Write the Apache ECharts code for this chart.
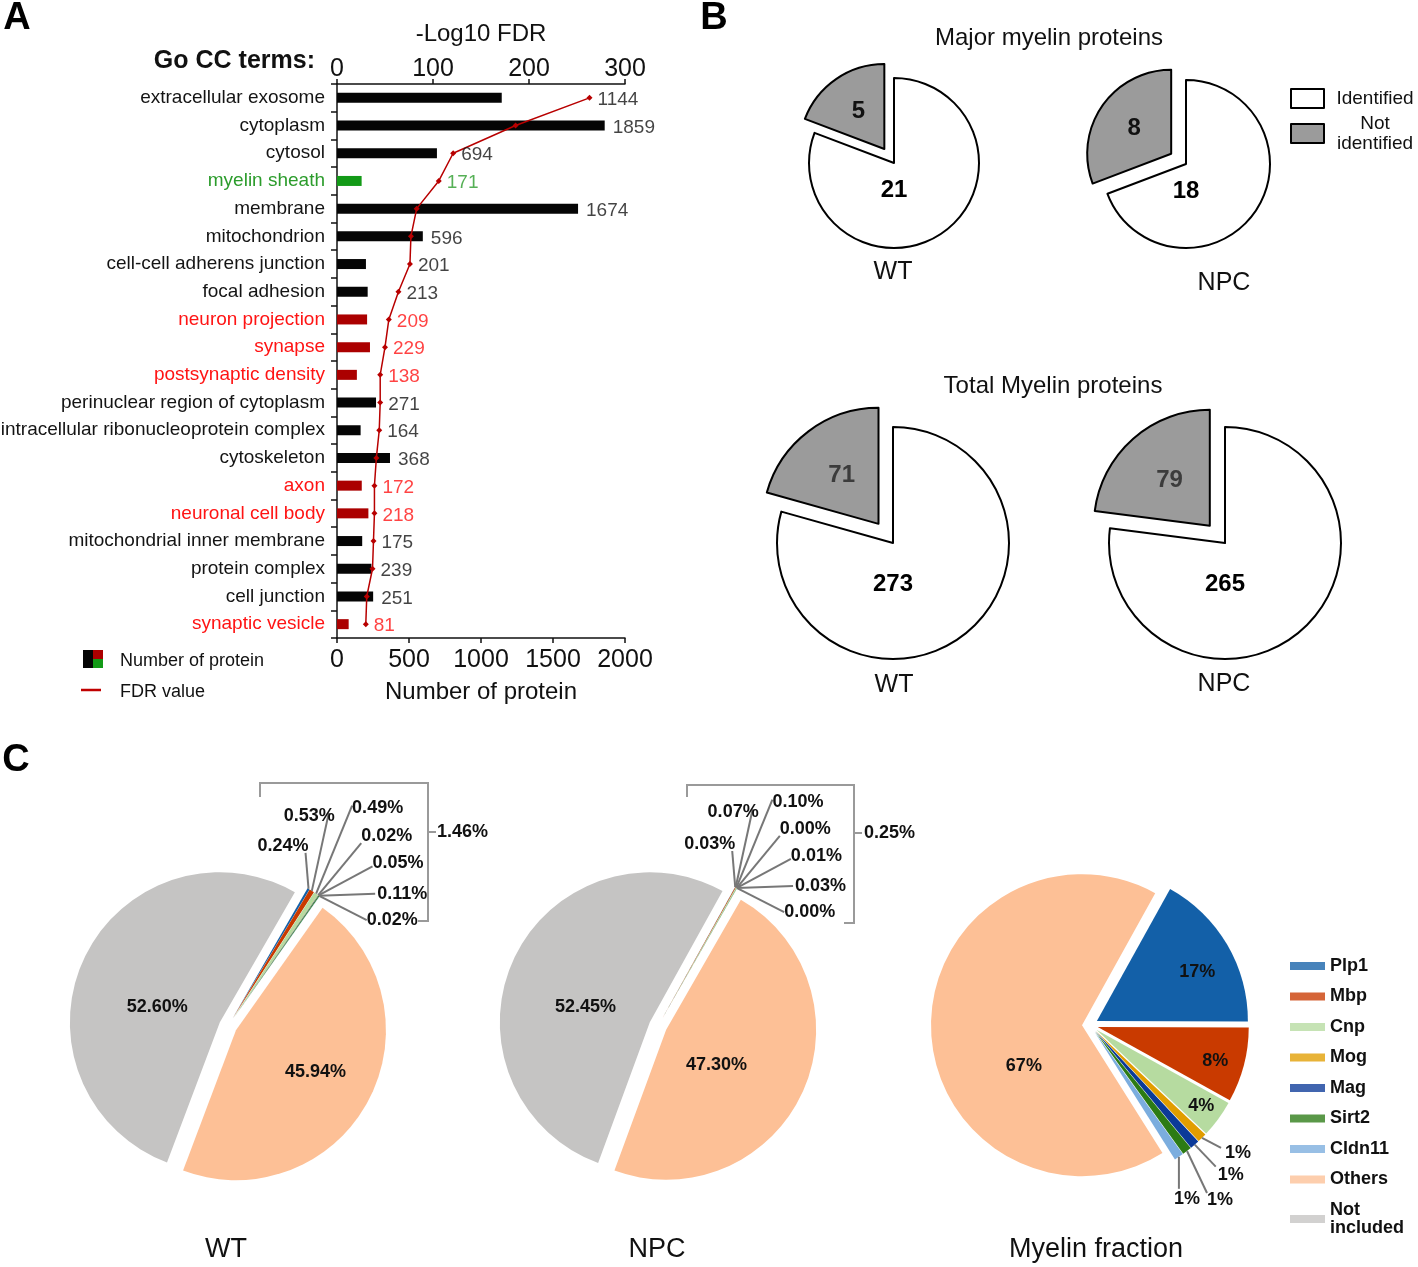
<!DOCTYPE html>
<html>
<head>
<meta charset="utf-8">
<title>GO CC terms and myelin proteins</title>
<script src="https://cdn.jsdelivr.net/npm/echarts@6.0.0/dist/echarts.min.js"></script>
<style>
html, body { margin: 0; padding: 0; background: #fff; }
#main { width: 1418px; height: 1267px; }
</style>
</head>
<body>
<div id="main"></div>
<script>
// ---- A: GO CC terms ----
const ccTerms = ['extracellular exosome', 'cytoplasm', 'cytosol', 'myelin sheath', 'membrane', 'mitochondrion',
  'cell-cell adherens junction', 'focal adhesion', 'neuron projection', 'synapse', 'postsynaptic density',
  'perinuclear region of cytoplasm', 'intracellular ribonucleoprotein complex', 'cytoskeleton', 'axon',
  'neuronal cell body', 'mitochondrial inner membrane', 'protein complex', 'cell junction', 'synaptic vesicle'];
const proteinCounts = [1144, 1859, 694, 171, 1674, 596, 201, 213, 209, 229, 138, 271, 164, 368, 172, 218, 175, 239, 251, 81];
const fdrLog10 = [263, 186, 121, 106, 83, 77, 76, 64, 54, 50, 45, 45, 44, 41, 39, 39, 38, 37, 31, 30];
const termGroup = ['other', 'other', 'other', 'myelin', 'other', 'other', 'other', 'other', 'neuron', 'neuron',
  'neuron', 'other', 'other', 'other', 'neuron', 'neuron', 'other', 'other', 'other', 'neuron'];
const countMax = 2000, countStep = 500;
const fdrMax = 300, fdrStep = 100;

// ---- B: identified / not identified ----
const idNames = ['Identified', 'Not identified'];
const majorWT = [21, 5];
const majorNPC = [18, 8];
const totalWT = [273, 71];
const totalNPC = [265, 79];

// ---- C: share of myelin proteins (%) ----
const proteinNames = ['Plp1', 'Mbp', 'Cnp', 'Mog', 'Mag', 'Sirt2', 'Cldn11', 'Others', 'Not included'];
const pctWT = [0.24, 0.53, 0.49, 0.02, 0.05, 0.11, 0.02, 45.94, 52.60];
const pctNPC = [0.03, 0.07, 0.10, 0.00, 0.01, 0.03, 0.00, 47.30, 52.45];
const fractionNames = ['Plp1', 'Mbp', 'Cnp', 'Mog', 'Mag', 'Sirt2', 'Cldn11', 'Others'];
const pctMyelin = [17, 8, 4, 1, 1, 1, 1, 67];

const FONT = '"Liberation Sans", Arial, Helvetica, sans-serif';
const groupBar = { other: '#050505', neuron: '#ab0000', myelin: '#139a17' };
const groupText = { other: '#141414', neuron: '#ff1414', myelin: '#2c9c2c' };
const proteinColors = ['#1360a8', '#c93a00', '#b6dba0', '#e19d00', '#0b3a98', '#2c7b14', '#7badde', '#fdc096', '#c5c4c3'];

// pie geometry (pixels)
const pieGeom = {
  majorWT: { center: [894, 163], radius: 85, offset: 17 },
  majorNPC: { center: [1186, 164], radius: 84, offset: 18 },
  totalWT: { center: [893, 543], radius: 116, offset: 24 },
  totalNPC: { center: [1225, 543], radius: 116, offset: 23 },
  pctWT: { center: [228, 1026], radius: 150, offset: 9, start: 60 },
  pctNPC: { center: [658, 1026], radius: 150, offset: 9, start: 61 },
  pctMyelin: { center: [1090, 1025], radius: 151, offset: 8, start: 61 }
};

// fan of leader lines for the tiny slices
const fanSmall = [
  { v: [-3, -36], align: 'right', dx: 3, dy: -7 },
  { v: [17, -78], align: 'right', dx: 6, dy: 3 },
  { v: [36, -88], align: 'left', dx: 0, dy: 2 },
  { v: [43, -52], align: 'left', dx: 0, dy: -7 },
  { v: [54, -29], align: 'left', dx: 0, dy: -3 },
  { v: [56, -2], align: 'left', dx: 2, dy: 0 },
  { v: [47, 24], align: 'left', dx: 0, dy: 0 }
];
const fanMyelin = [
  { v: [19, 10], align: 'left', dx: 4, dy: 5 },
  { v: [21, 22], align: 'left', dx: 2, dy: 8 },
  { v: [20, 42], align: 'left', dx: 0, dy: 7 },
  { v: [0, 32], align: 'left', dx: -5, dy: 10 }
];

function placeLabels (geom, specs) {
  return function (p) {
    const s = specs[p.dataIndex];
    if (!s) return {};
    const c = geom.center, r = geom.radius;
    const ref = (p.labelLinePoints && p.labelLinePoints[0]) ||
      [p.labelRect.x + p.labelRect.width / 2, p.labelRect.y + p.labelRect.height / 2];
    let ux = ref[0] - c[0], uy = ref[1] - c[1];
    const n = Math.hypot(ux, uy) || 1;
    ux /= n; uy /= n;
    const d = s.sel === false ? 0 : geom.offset;
    if (s.v) {
      const ax = c[0] + (d + r) * ux, ay = c[1] + (d + r) * uy;
      const ex = ax + s.v[0], ey = ay + s.v[1];
      return {
        x: ex + s.dx, y: ey + s.dy, align: s.align, verticalAlign: 'middle',
        labelLinePoints: [[ax, ay], [ex, ey], [ex, ey]]
      };
    }
    let lx = ux, ly = uy;
    if (s.ang != null) {
      const a = s.ang * Math.PI / 180;
      lx = Math.sin(a); ly = -Math.cos(a);
    }
    return {
      x: c[0] + d * ux + s.f * r * lx,
      y: c[1] + d * uy + s.f * r * ly,
      align: 'center', verticalAlign: 'middle'
    };
  };
}

function idPie (geom, values, specs, grayLabel) {
  return {
    type: 'pie', center: geom.center, radius: geom.radius, startAngle: 90, clockwise: true,
    selectedMode: 'multiple', selectedOffset: geom.offset, avoidLabelOverlap: false, silent: true,
    itemStyle: { borderColor: '#000', borderWidth: 2 },
    label: { position: 'inside', fontSize: 24, fontWeight: 'bold', fontFamily: FONT, formatter: '{c}' },
    labelLine: { show: false },
    labelLayout: placeLabels(geom, specs),
    data: [
      { name: idNames[0], value: values[0], itemStyle: { color: '#ffffff' }, label: { color: '#000' } },
      { name: idNames[1], value: values[1], selected: true, itemStyle: { color: '#9b9b9b' }, label: { color: grayLabel } }
    ]
  };
}

// exploded colour pie + a transparent twin that carries the labels
function pctPie (geom, names, values, specs, digits) {
  const base = {
    type: 'pie', center: geom.center, radius: geom.radius, startAngle: geom.start, clockwise: true,
    selectedMode: 'multiple', selectedOffset: geom.offset, silent: true,
    itemStyle: { borderWidth: 0 },
    label: { show: false }, labelLine: { show: false },
    data: names.map((nm, i) => ({ name: nm, value: values[i], selected: true, itemStyle: { color: proteinColors[i] } }))
  };
  const labels = {
    type: 'pie', center: geom.center, radius: geom.radius, startAngle: geom.start, clockwise: true,
    silent: true, avoidLabelOverlap: false, z: 4,
    itemStyle: { color: 'rgba(0,0,0,0)', borderWidth: 0 },
    label: {
      fontSize: 18, fontWeight: 'bold', color: '#111', fontFamily: FONT,
      formatter: p => p.value.toFixed(digits) + '%'
    },
    labelLine: { show: false, length: 10, length2: 0, lineStyle: { color: '#777', width: 2 } },
    labelLayout: placeLabels(geom, specs),
    data: names.map((nm, i) => ({
      name: nm, value: values[i],
      label: { position: specs[i].v ? 'outside' : 'inside' },
      labelLine: { show: !!specs[i].v }
    }))
  };
  return [base, labels];
}

const specsWT = fanSmall.concat([{ f: 0.6 }, { f: 0.43, ang: 284 }]);
const specsNPC = fanSmall.concat([{ f: 0.41, ang: 125 }, { f: 0.44, ang: 283 }]);
const specsMyelin = [{ f: 0.74, ang: 64 }, { f: 0.81, ang: 106 }, { f: 0.86 }].concat(fanMyelin, [{ f: 0.47, ang: 235 }]);
const specsMajor = [{ f: 0.32, ang: 180, sel: false }, { f: 0.5 }];
const specsTotal = [{ f: 0.36, ang: 180, sel: false }, { f: 0.5 }];

function txt (x, y, text, size, extra) {
  return {
    type: 'text', x: x, y: y, silent: true,
    style: Object.assign({
      text: text, fontSize: size, fontFamily: FONT, fill: '#111',
      align: 'center', verticalAlign: 'middle', textAlign: 'center', textVerticalAlign: 'middle'
    }, extra || {})
  };
}
function poly (points) {
  return { type: 'polyline', silent: true, shape: { points: points }, style: { stroke: '#9a9a9a', lineWidth: 2, fill: null } };
}

const chart = echarts.init(document.getElementById('main'), null, { renderer: 'canvas' });

const option = {
  animation: false,
  backgroundColor: '#fff',
  textStyle: { fontFamily: FONT },
  grid: { left: 337, top: 84, width: 288, height: 554, containLabel: false, outerBoundsMode: 'none' },
  xAxis: [
    {
      type: 'value', position: 'bottom', min: 0, max: countMax, interval: countStep,
      name: 'Number of protein', nameLocation: 'middle', nameGap: 42,
      nameTextStyle: { fontSize: 24, color: '#111' },
      axisLine: { show: true, lineStyle: { color: '#111', width: 1.5 } },
      axisTick: { show: true, length: 5, lineStyle: { color: '#111', width: 1.5 } },
      axisLabel: { fontSize: 25, color: '#111', margin: 10, formatter: v => String(v) },
      splitLine: { show: false }
    },
    {
      type: 'value', position: 'top', min: 0, max: fdrMax, interval: fdrStep,
      name: '-Log10 FDR', nameLocation: 'middle', nameGap: 38,
      nameTextStyle: { fontSize: 24, color: '#111' },
      axisLine: { show: true, lineStyle: { color: '#111', width: 1.5 } },
      axisTick: { show: true, length: 5, lineStyle: { color: '#111', width: 1.5 } },
      axisLabel: { fontSize: 25, color: '#111', margin: 2, formatter: v => String(v) },
      splitLine: { show: false }
    }
  ],
  yAxis: {
    type: 'category', inverse: true,
    data: ccTerms.map((t, i) => ({ value: t, textStyle: { color: groupText[termGroup[i]] } })),
    axisLine: { show: true, lineStyle: { color: '#111', width: 1.5 } },
    axisTick: { show: true, length: 6, lineStyle: { color: '#111', width: 1.5 } },
    axisLabel: { fontSize: 19, margin: 12, color: '#141414' },
    splitLine: { show: false }
  },
  legend: [
    {
      data: idNames, orient: 'vertical', left: 1290, top: 88, padding: 0, itemWidth: 33, itemHeight: 19, itemGap: 5,
      icon: 'rect', selectedMode: false,
      itemStyle: { borderColor: '#000', borderWidth: 2 },
      formatter: nm => nm.split(' ').map(w => '{c|' + w + '}').join('\n'),
      textStyle: { rich: { c: { width: 92, align: 'center', fontSize: 19, lineHeight: 20, color: '#111' } } }
    },
    {
      data: proteinNames, orient: 'vertical', left: 1290, top: 957, padding: 0, itemWidth: 35, itemHeight: 8, itemGap: 12.5,
      icon: 'rect', selectedMode: false,
      itemStyle: { opacity: 0.78 },
      formatter: nm => nm.replace(' ', '\n'),
      textStyle: { fontSize: 18, fontWeight: 'bold', color: '#111', lineHeight: 18 }
    }
  ],
  series: [
    {
      type: 'bar', xAxisIndex: 0, yAxisIndex: 0, barWidth: 10, silent: true,
      data: proteinCounts.map((v, i) => ({ value: [v, i], itemStyle: { color: groupBar[termGroup[i]] } }))
    },
    {
      type: 'line', xAxisIndex: 1, yAxisIndex: 0, silent: true, z: 5,
      symbol: 'diamond', symbolSize: 6,
      lineStyle: { color: '#b80000', width: 1.5 }, itemStyle: { color: '#b80000' },
      data: fdrLog10.map((v, i) => [v, i])
    },
    {
      type: 'scatter', xAxisIndex: 0, yAxisIndex: 0, silent: true, symbolSize: 0, z: 6,
      label: {
        show: true, position: 'right', distance: 8, fontSize: 19, offset: [0, 2],
        formatter: p => String(proteinCounts[p.dataIndex])
      },
      data: proteinCounts.map((v, i) => ({
        value: [Math.max(v, fdrLog10[i] * countMax / fdrMax), i],
        label: { color: groupText[termGroup[i]] }
      }))
    },
    idPie(pieGeom.majorWT, majorWT, specsMajor, '#111'),
    idPie(pieGeom.majorNPC, majorNPC, specsMajor, '#111'),
    idPie(pieGeom.totalWT, totalWT, specsTotal, '#3c3c3c'),
    idPie(pieGeom.totalNPC, totalNPC, specsTotal, '#3c3c3c')
  ].concat(
    pctPie(pieGeom.pctWT, proteinNames, pctWT, specsWT, 2),
    pctPie(pieGeom.pctNPC, proteinNames, pctNPC, specsNPC, 2),
    pctPie(pieGeom.pctMyelin, fractionNames, pctMyelin, specsMyelin, 0)
  ),
  graphic: {
    elements: [
      // panel letters
      txt(17, 19, 'A', 38, { fontWeight: 'bold', fill: '#000' }),
      txt(714, 19, 'B', 38, { fontWeight: 'bold', fill: '#000' }),
      txt(16, 761, 'C', 38, { fontWeight: 'bold', fill: '#000' }),
      // panel A
      txt(315, 61, 'Go CC terms:', 25, { fontWeight: 'bold', align: 'right', textAlign: 'right' }),
      { type: 'rect', silent: true, shape: { x: 83, y: 650, width: 10, height: 18 }, style: { fill: '#050505' } },
      { type: 'rect', silent: true, shape: { x: 93, y: 650, width: 10, height: 9 }, style: { fill: '#ab0000' } },
      { type: 'rect', silent: true, shape: { x: 93, y: 659, width: 10, height: 9 }, style: { fill: '#139a17' } },
      txt(120, 661, 'Number of protein', 18, { align: 'left', textAlign: 'left' }),
      { type: 'line', silent: true, shape: { x1: 81, y1: 690, x2: 101, y2: 690 }, style: { stroke: '#c00000', lineWidth: 2.5 } },
      txt(120, 692, 'FDR value', 18, { align: 'left', textAlign: 'left' }),
      // panel B
      txt(1049, 38, 'Major myelin proteins', 24),
      txt(1053, 386, 'Total Myelin proteins', 24),
      txt(893, 272, 'WT', 25),
      txt(1224, 283, 'NPC', 25),
      txt(894, 685, 'WT', 25),
      txt(1224, 684, 'NPC', 25),
      // panel C
      txt(226, 1250, 'WT', 27),
      txt(657, 1250, 'NPC', 27),
      txt(1096, 1250, 'Myelin fraction', 27),
      poly([[260, 797], [260, 783], [428, 783], [428, 921], [418, 921]]),
      poly([[428, 832], [436, 832]]),
      txt(437, 832, '1.46%', 18, { fontWeight: 'bold', align: 'left', textAlign: 'left' }),
      poly([[687, 797], [687, 785], [854, 785], [854, 923], [844, 923]]),
      poly([[854, 833], [862, 833]]),
      txt(864, 833, '0.25%', 18, { fontWeight: 'bold', align: 'left', textAlign: 'left' })
    ]
  }
};

chart.setOption(option);
</script>
</body>
</html>
